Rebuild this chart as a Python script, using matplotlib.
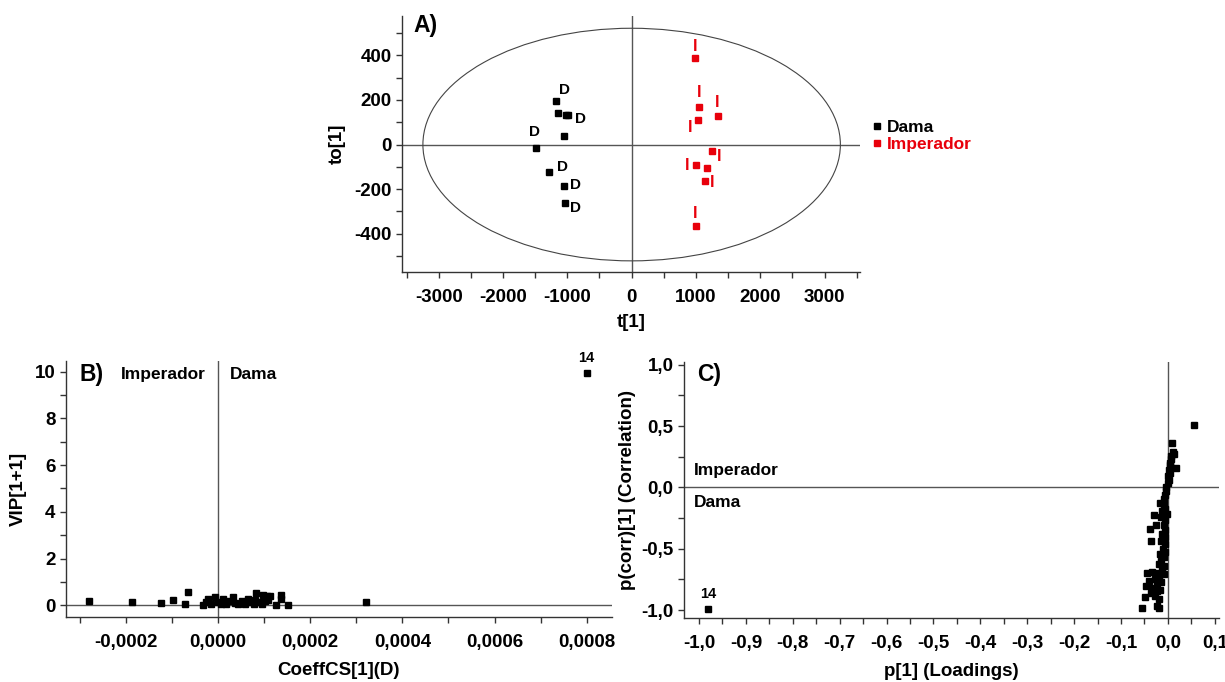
import numpy as np
import matplotlib
matplotlib.use("Agg")
import matplotlib.pyplot as plt
from matplotlib.patches import Ellipse
from matplotlib.ticker import MultipleLocator, FuncFormatter

plt.rcParams['font.family'] = ['Liberation Sans', 'DejaVu Sans']
plt.rcParams['font.weight'] = 'bold'
plt.rcParams['axes.unicode_minus'] = False

# --- A) OPLS-DA scores ---
dama_t = [-1181, -1141, -1026, -986, -1048, -1491, -1280, -1053, -1037]
dama_to = [194, 143, 131, 131, 37, -15, -124, -188, -262]
imp_t = [986, 1042, 1033, 1336, 1243, 1002, 1166, 1135, 1002]
imp_to = [390, 167, 112, 126, -29, -92, -106, -163, -367]
# which points carry a class letter, and the letter's pixel offset
dama_lab = {0: (9, 11), 3: (12, -4), 5: (-1, 16), 6: (13, 5), 7: (12, 1), 8: (11, -5)}
imp_lab = {0: (0, 11), 1: (0, 15), 2: (-8, -8), 3: (0, 14), 4: (8, -5),
           5: (-9, 0), 7: (7, -2), 8: (-1, 13)}
ell_a, ell_b = 3245, 522

# --- B) VIP vs coefficients ---
coef = [-2.79e-4, -1.86e-4, -1.24e-4, -0.98e-4, -0.66e-4, -0.72e-4, -0.33e-4,
        -0.27e-4, -0.22e-4, -0.15e-4, -0.06e-4, 0.0, 0.06e-4, 0.11e-4, 0.18e-4,
        0.24e-4, 0.33e-4, 0.36e-4, 0.44e-4, 0.51e-4, 0.58e-4, 0.64e-4, 0.69e-4,
        0.77e-4, 0.80e-4, 0.82e-4, 0.88e-4, 0.95e-4, 0.97e-4, 1.02e-4, 1.06e-4,
        1.13e-4, 1.09e-4, 1.26e-4, 1.36e-4, 1.36e-4, 1.52e-4, 3.21e-4, 8.0e-4]
vip = [0.19, 0.16, 0.11, 0.24, 0.57, 0.07, 0.03, 0.13, 0.29, 0.06, 0.37, 0.13,
       0.06, 0.27, 0.06, 0.20, 0.37, 0.11, 0.06, 0.20, 0.06, 0.27, 0.13, 0.06,
       0.23, 0.53, 0.13, 0.06, 0.42, 0.20, 0.40, 0.40, 0.23, 0.01, 0.45, 0.27,
       0.01, 0.16, 9.94]

# --- C) S-plot ---
p_load = [0.0547, 0.0092, 0.0107, 0.0071, 0.0135, 0.0171, 0.0064, 0.0036, 0.005,
          0.0014, 0.0043, 0.0007, 0.0014, -0.0007, -0.0036, -0.005, -0.0064,
          -0.0078, -0.0178, -0.0092, -0.0057, -0.0128, -0.0021, -0.0291, -0.0142,
          -0.0057, -0.0249, -0.0092, -0.0391, -0.0057, -0.0128, -0.0057, -0.0355,
          -0.0142, -0.0071, -0.0107, -0.0057, -0.0163, -0.0085, -0.0142, -0.0185,
          -0.0085, -0.0128, -0.0448, -0.0341, -0.0213, -0.0092, -0.0412, -0.0284,
          -0.0185, -0.0462, -0.0341, -0.0235, -0.0142, -0.0355, -0.0235, -0.0163,
          -0.0483, -0.0284, -0.0185, -0.0547, -0.0235, -0.0185, -0.981]
p_corr = [0.51, 0.36, 0.29, 0.26, 0.27, 0.16, 0.23, 0.20, 0.18, 0.14, 0.12, 0.09,
          0.06, 0.035, 0.008, -0.027, -0.063, -0.095, -0.128, -0.145, -0.177,
          -0.191, -0.218, -0.226, -0.237, -0.265, -0.303, -0.308, -0.341, -0.346,
          -0.382, -0.401, -0.436, -0.436, -0.464, -0.499, -0.526, -0.546, -0.565,
          -0.600, -0.627, -0.641, -0.674, -0.696, -0.690, -0.701, -0.709, -0.764,
          -0.750, -0.737, -0.805, -0.818, -0.791, -0.772, -0.859, -0.846, -0.832,
          -0.892, -0.887, -0.908, -0.982, -0.968, -0.982, -0.993]

fig = plt.figure(figsize=(12.25, 6.82), dpi=100)
W, H = 1225, 682


def add_ax(l, r, t, b):
    return fig.add_axes([l / W, 1 - b / H, (r - l) / W, (b - t) / H])


def style(ax):
    for s in ['top', 'right']:
        ax.spines[s].set_visible(False)
    for s in ['left', 'bottom']:
        ax.spines[s].set_color('#333333')
        ax.spines[s].set_linewidth(1.0)
    ax.tick_params(which='both', direction='out', length=4, width=1,
                   color='#333333', labelsize=13.5)
    ax.tick_params(axis='x', which='major', pad=8)
    ax.axhline(0, color='#555555', lw=1, zorder=1)
    ax.axvline(0, color='#555555', lw=1, zorder=1)


def comma(fmt):
    def f(v, p):
        if abs(v) < 1e-12:
            v = 0.0
        return fmt.format(v).replace('.', ',')
    return FuncFormatter(f)


# A
ax_a = add_ax(402, 860, 16, 272)
style(ax_a)
ax_a.set_xlim(-3570, 3550)
ax_a.set_ylim(-572, 577)
ax_a.xaxis.set_major_locator(MultipleLocator(1000))
ax_a.xaxis.set_minor_locator(MultipleLocator(500))
ax_a.yaxis.set_major_locator(MultipleLocator(200))
ax_a.yaxis.set_minor_locator(MultipleLocator(100))
ax_a.add_patch(Ellipse((0, 0), 2 * ell_a, 2 * ell_b, fill=False,
                       lw=0.8, ec='#444444', zorder=1))
ax_a.plot(dama_t, dama_to, 's', color='black', ms=5, label='Dama', zorder=3)
ax_a.plot(imp_t, imp_to, 's', color='#e8000b', ms=5, label='Imperador', zorder=3)
for i, (dx, dy) in dama_lab.items():
    ax_a.annotate('D', (dama_t[i], dama_to[i]), xytext=(dx, dy),
                  textcoords='offset pixels', ha='center', va='center',
                  fontsize=11, fontweight='bold', color='black')
for i, (dx, dy) in imp_lab.items():
    ax_a.annotate('I', (imp_t[i], imp_to[i]), xytext=(dx, dy),
                  textcoords='offset pixels', ha='center', va='center',
                  fontsize=11.5, fontweight='bold', color='#e8000b')
ax_a.text(-3400, 536, 'A)', fontsize=16.5, fontweight='bold', va='center')
ax_a.set_xlabel('t[1]', fontsize=13.5, fontweight='bold', labelpad=6)
ax_a.set_ylabel('to[1]', fontsize=13.5, fontweight='bold', labelpad=6)
leg = ax_a.legend(loc='center left', frameon=False, fontsize=12.5,
                  handlelength=0.6, handletextpad=0.3, labelspacing=0.1,
                  borderaxespad=0, labelcolor='markerfacecolor',
                  bbox_to_anchor=(1.01, 0.53))
for t in leg.get_texts():
    t.set_fontweight('bold')

# B
ax_b = add_ax(66, 612, 361, 617)
style(ax_b)
ax_b.set_xlim(-0.00033, 0.000855)
ax_b.set_ylim(-0.5, 10.45)
ax_b.xaxis.set_major_locator(MultipleLocator(0.0002))
ax_b.xaxis.set_minor_locator(MultipleLocator(0.0001))
ax_b.yaxis.set_major_locator(MultipleLocator(2))
ax_b.yaxis.set_minor_locator(MultipleLocator(1))
ax_b.xaxis.set_major_formatter(comma('{:.4f}'))
ax_b.plot(coef, vip, 's', color='black', ms=5, zorder=3)
ax_b.annotate('14', (coef[-1], vip[-1]), xytext=(0, 15), textcoords='offset pixels',
              ha='center', va='center', fontsize=10.5, fontweight='bold')
ax_b.text(-0.00030, 9.87, 'B)', fontsize=16.5, fontweight='bold', va='center')
ax_b.text(-0.000026, 9.87, 'Imperador', fontsize=12.5, fontweight='bold',
          va='center', ha='right')
ax_b.text(0.0000265, 9.87, 'Dama', fontsize=12.5, fontweight='bold',
          va='center', ha='left')
ax_b.set_xlabel('CoeffCS[1](D)', fontsize=13.5, fontweight='bold', labelpad=8)
ax_b.set_ylabel('VIP[1+1]', fontsize=13.5, fontweight='bold', labelpad=6)

# C
ax_c = add_ax(684, 1219, 362, 618)
style(ax_c)
ax_c.set_xlim(-1.032, 0.109)
ax_c.set_ylim(-1.064, 1.023)
ax_c.xaxis.set_major_locator(MultipleLocator(0.1))
ax_c.xaxis.set_minor_locator(MultipleLocator(0.05))
ax_c.yaxis.set_major_locator(MultipleLocator(0.5))
ax_c.yaxis.set_minor_locator(MultipleLocator(0.25))
ax_c.xaxis.set_major_formatter(comma('{:.1f}'))
ax_c.yaxis.set_major_formatter(comma('{:.1f}'))
ax_c.plot(p_load, p_corr, 's', color='black', ms=5, zorder=3)
ax_c.annotate('14', (p_load[-1], p_corr[-1]), xytext=(0, 15), textcoords='offset pixels',
              ha='center', va='center', fontsize=10.5, fontweight='bold')
ax_c.text(-1.005, 0.92, 'C)', fontsize=16.5, fontweight='bold', va='center')
ax_c.text(-1.011, 0.137, 'Imperador', fontsize=12.5, fontweight='bold', va='center')
ax_c.text(-1.011, -0.125, 'Dama', fontsize=12.5, fontweight='bold', va='center')
ax_c.set_xlabel('p[1] (Loadings)', fontsize=13.5, fontweight='bold', labelpad=8)
ax_c.set_ylabel('p(corr)[1] (Correlation)', fontsize=13.5, fontweight='bold', labelpad=4)

fig.savefig('out.png', dpi=100)
